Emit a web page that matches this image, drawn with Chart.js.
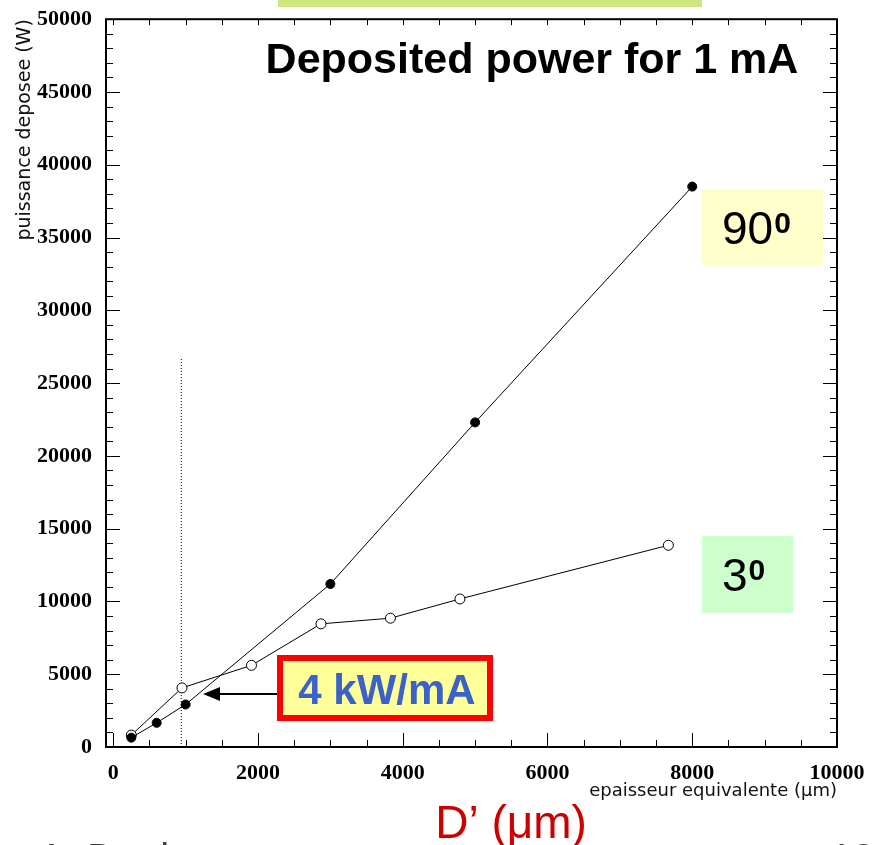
<!DOCTYPE html>
<html>
<head>
<meta charset="utf-8">
<script src="https://cdn.jsdelivr.net/npm/chart.js@4.4.1/dist/chart.umd.min.js"></script>
<style>
  html, body { margin: 0; padding: 0; background: #fff; }
</style>
</head>
<body>
<canvas id="powerChart" width="881" height="845"></canvas>
<script>
// Deposited power (W) vs equivalent thickness (um), for 1 mA
const thickness90 = [250, 600, 1000, 3000, 5000, 8000];
const power90 = [640, 1660, 2920, 11200, 22300, 38500];

const thickness3 = [250, 950, 1910, 2870, 3830, 4790, 7670];
const power3 = [820, 4060, 5610, 8460, 8850, 10170, 13860];

// dotted marker line at the 4 kW/mA thickness
const markerX = [940, 940];
const markerY = [0, 26800];

const xTickValues = [0, 2000, 4000, 6000, 8000, 10000];
const xTickLabels = ['0', '2000', '4000', '6000', '8000', '10000'];
const yTickValues = [0, 5000, 10000, 15000, 20000, 25000, 30000, 35000, 40000, 45000, 50000];
const yTickLabels = ['0', '5000', '10000', '15000', '20000', '25000', '30000', '35000', '40000', '45000', '50000'];

const toPoints = (xs, ys) => xs.map((v, i) => ({ x: v, y: ys[i] }));

// frame with inward ticks on all four sides
const frameTicks = {
  id: 'frameTicks',
  afterDatasetsDraw(chart) {
    const { ctx, chartArea: a, scales: { x, y } } = chart;
    ctx.save();
    ctx.strokeStyle = '#000';
    ctx.lineWidth = 1;
    ctx.beginPath();
    for (let v = 0; v <= 10000; v += 500) {
      const px = Math.round(x.getPixelForValue(v)) + 0.5;
      const len = v % 2000 === 0 ? 14 : 7;
      ctx.moveTo(px, a.bottom);
      ctx.lineTo(px, a.bottom - len);
      ctx.moveTo(px, a.top);
      ctx.lineTo(px, a.top + 6);
    }
    for (let v = 0; v <= 50000; v += 1000) {
      const py = Math.round(y.getPixelForValue(v)) + 0.5;
      const len = v % 5000 === 0 ? 14 : 7;
      ctx.moveTo(a.left, py);
      ctx.lineTo(a.left + len, py);
      ctx.moveTo(a.right, py);
      ctx.lineTo(a.right - len, py);
    }
    ctx.stroke();
    ctx.lineWidth = 2;
    ctx.strokeRect(a.left, a.top, a.right - a.left, a.bottom - a.top);
    ctx.restore();
  }
};

function angleLabel(ctx, deg, bx, by, bw, bh, fill) {
  ctx.fillStyle = fill;
  ctx.fillRect(bx, by, bw, bh);
  ctx.fillStyle = '#000';
  ctx.textAlign = 'left';
  ctx.textBaseline = 'alphabetic';
  ctx.font = '46px "Liberation Sans", Arial, sans-serif';
  const base = by + 55;
  ctx.fillText(deg, bx + 20, base);
  const w = ctx.measureText(deg).width;
  ctx.font = 'bold 30px "Liberation Sans", Arial, sans-serif';
  ctx.fillText('0', bx + 21 + w, base - 11);
}

// slide annotations drawn over the plot
const notes = {
  id: 'notes',
  afterDraw(chart) {
    const ctx = chart.ctx;
    ctx.save();

    ctx.fillStyle = '#cde680';
    ctx.fillRect(278, 0, 424, 7);

    ctx.fillStyle = '#000';
    ctx.font = 'bold 43px "Liberation Sans", Arial, sans-serif';
    ctx.textAlign = 'center';
    ctx.textBaseline = 'alphabetic';
    ctx.fillText('Deposited power for 1 mA', 532, 73);

    angleLabel(ctx, '90', 702, 189, 121, 77, '#ffffcc');
    angleLabel(ctx, '3', 702, 536, 91, 77, '#ccffcc');

    // 4 kW/mA call-out with arrow
    ctx.fillStyle = '#ffff99';
    ctx.fillRect(280, 658, 210, 60);
    ctx.strokeStyle = '#ff0000';
    ctx.lineWidth = 6;
    ctx.strokeRect(280, 658, 210, 60);
    ctx.fillStyle = '#3a62c9';
    ctx.font = 'bold 42px "Liberation Sans", Arial, sans-serif';
    ctx.textAlign = 'center';
    ctx.fillText('4 kW/mA', 387, 704);

    ctx.strokeStyle = '#000';
    ctx.lineWidth = 2;
    ctx.beginPath();
    ctx.moveTo(277, 694);
    ctx.lineTo(216, 694);
    ctx.stroke();
    ctx.fillStyle = '#000';
    ctx.beginPath();
    ctx.moveTo(203, 694);
    ctx.lineTo(220, 687);
    ctx.lineTo(220, 701);
    ctx.closePath();
    ctx.fill();

    ctx.fillStyle = '#cc0000';
    ctx.font = '46px "Liberation Sans", Arial, sans-serif';
    ctx.fillText('D\u2019 (\u03bcm)', 511, 838);

    // footer line, cut by the page edge
    ctx.fillStyle = '#404040';
    ctx.font = '40px "Liberation Sans", Arial, sans-serif';
    ctx.textAlign = 'left';
    ctx.fillText('A. Dael', 38, 872);
    ctx.fillText('13', 830, 872);

    ctx.restore();
  }
};

const tickFont = { family: '"Liberation Serif", "Times New Roman", serif', size: 22, weight: 'bold' };

new Chart(document.getElementById('powerChart'), {
  type: 'line',
  data: {
    datasets: [
      {
        label: '90',
        data: toPoints(thickness90, power90),
        borderColor: '#000',
        borderWidth: 1,
        backgroundColor: '#000',
        pointRadius: 4.5,
        pointBorderWidth: 1,
        tension: 0
      },
      {
        label: '3',
        data: toPoints(thickness3, power3),
        borderColor: '#000',
        borderWidth: 1,
        backgroundColor: '#fff',
        pointRadius: 5,
        pointBorderWidth: 1,
        tension: 0
      },
      {
        label: 'marker',
        data: toPoints(markerX, markerY),
        borderColor: '#000',
        borderWidth: 1,
        borderDash: [1, 2],
        pointRadius: 0,
        tension: 0
      }
    ]
  },
  options: {
    responsive: false,
    animation: false,
    layout: { padding: { top: 16, right: 44, left: 0, bottom: 0 } },
    plugins: {
      legend: { display: false },
      tooltip: { enabled: false }
    },
    scales: {
      x: {
        type: 'linear',
        min: -100,
        max: 10000,
        grid: { display: false },
        border: { display: false },
        afterBuildTicks: s => { s.ticks = xTickValues.map(v => ({ value: v })); },
        afterFit: s => { s.height = 98; },
        ticks: {
          color: '#000',
          font: tickFont,
          padding: 5,
          maxRotation: 0,
          autoSkip: false,
          callback: (v, i) => xTickLabels[i]
        },
        title: {
          display: true,
          text: 'epaisseur equivalente (\u03bcm)',
          align: 'end',
          color: '#111',
          font: { family: '"DejaVu Sans", sans-serif', size: 18, weight: 'normal' },
          padding: { top: 0, bottom: 43 }
        }
      },
      y: {
        type: 'linear',
        min: 0,
        max: 50000,
        grid: { display: false },
        border: { display: false },
        afterBuildTicks: s => { s.ticks = yTickValues.map(v => ({ value: v })); },
        afterFit: s => { s.width = 106; },
        ticks: {
          color: '#000',
          font: tickFont,
          padding: 6,
          autoSkip: false,
          callback: (v, i) => yTickLabels[i]
        },
        title: {
          display: true,
          text: 'puissance deposee (W)',
          align: 'end',
          color: '#111',
          font: { family: '"DejaVu Sans", sans-serif', size: 19, weight: 'normal' },
          padding: { top: 14, bottom: 0 }
        }
      }
    }
  },
  plugins: [frameTicks, notes]
});
</script>
</body>
</html>
